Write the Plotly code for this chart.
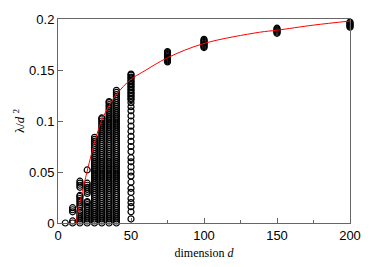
import plotly.graph_objects as go

# column positions (dimension d)
dims = [5, 10, 15, 20, 25, 30, 35, 40, 50, 75, 100, 150, 200]

# observed values lambda/d^2 for each dimension
vals_d5 = [0.0]
vals_d10 = [0.0, 0.002, 0.011, 0.013, 0.015]
vals_d15 = [0.0, 0.002, 0.004, 0.006, 0.008, 0.010, 0.012, 0.016, 0.018, 0.020,
            0.022, 0.024, 0.026, 0.027, 0.035, 0.037, 0.039, 0.041]
vals_d20 = [0.0, 0.002, 0.004, 0.006, 0.008, 0.010, 0.012, 0.014, 0.016, 0.018,
            0.020, 0.021, 0.029, 0.031, 0.033, 0.035, 0.037, 0.039, 0.052]
vals_d25 = [0.000, 0.002, 0.004, 0.006, 0.008, 0.010, 0.012, 0.014, 0.016, 0.018,
            0.020, 0.022, 0.024, 0.026, 0.028, 0.030, 0.032, 0.034, 0.036, 0.038,
            0.040, 0.042, 0.044, 0.046, 0.048, 0.050, 0.052, 0.054, 0.056, 0.058,
            0.060, 0.062, 0.064, 0.066, 0.068, 0.070, 0.072, 0.074, 0.076, 0.078,
            0.080, 0.082, 0.084]
vals_d30 = [0.000, 0.002, 0.004, 0.006, 0.008, 0.010, 0.012, 0.014, 0.016, 0.018,
            0.020, 0.022, 0.024, 0.026, 0.028, 0.030, 0.032, 0.034, 0.036, 0.038,
            0.040, 0.042, 0.044, 0.046, 0.048, 0.050, 0.052, 0.054, 0.056, 0.058,
            0.060, 0.062, 0.064, 0.066, 0.068, 0.070, 0.072, 0.074, 0.076, 0.078,
            0.080, 0.082, 0.084, 0.086, 0.088, 0.090, 0.092, 0.094, 0.096, 0.098,
            0.100, 0.102, 0.103]
vals_d35 = [0.000, 0.002, 0.004, 0.006, 0.008, 0.010, 0.012, 0.014, 0.016, 0.018,
            0.020, 0.022, 0.024, 0.026, 0.028, 0.030, 0.032, 0.034, 0.036, 0.038,
            0.040, 0.042, 0.044, 0.046, 0.048, 0.050, 0.052, 0.054, 0.056, 0.058,
            0.060, 0.062, 0.064, 0.066, 0.068, 0.070, 0.072, 0.074, 0.076, 0.078,
            0.080, 0.082, 0.084, 0.086, 0.088, 0.090, 0.092, 0.094, 0.096, 0.098,
            0.100, 0.102, 0.104, 0.106, 0.108, 0.110, 0.112, 0.114, 0.116, 0.118,
            0.119]
vals_d40 = [0.000, 0.002, 0.004, 0.006, 0.008, 0.010, 0.012, 0.014, 0.016, 0.018,
            0.020, 0.022, 0.024, 0.026, 0.028, 0.030, 0.032, 0.034, 0.036, 0.038,
            0.040, 0.042, 0.044, 0.046, 0.048, 0.050, 0.052, 0.054, 0.056, 0.058,
            0.060, 0.062, 0.064, 0.066, 0.068, 0.070, 0.072, 0.074, 0.076, 0.078,
            0.080, 0.082, 0.084, 0.086, 0.088, 0.090, 0.092, 0.094, 0.096, 0.098,
            0.100, 0.102, 0.104, 0.106, 0.108, 0.110, 0.112, 0.114, 0.116, 0.118,
            0.120, 0.122, 0.124, 0.126, 0.128, 0.130]
vals_d50 = [0.004, 0.011, 0.016, 0.020, 0.024, 0.030, 0.034, 0.040, 0.046, 0.050,
            0.055, 0.060, 0.064, 0.070, 0.075, 0.080, 0.085, 0.090, 0.095, 0.100,
            0.105, 0.110, 0.114, 0.118, 0.121, 0.122, 0.124, 0.125, 0.127, 0.128,
            0.130, 0.131, 0.133, 0.134, 0.136, 0.137, 0.139, 0.140, 0.142, 0.143,
            0.145, 0.146]
vals_d75 = [0.158, 0.159, 0.160, 0.161, 0.162, 0.163, 0.164, 0.165, 0.166, 0.167, 0.168]
vals_d100 = [0.172, 0.173, 0.174, 0.175, 0.176, 0.177, 0.178, 0.179, 0.180]
vals_d150 = [0.186, 0.187, 0.188, 0.189, 0.190, 0.191]
vals_d200 = [0.192, 0.193, 0.194, 0.195, 0.196, 0.197]

columns = [vals_d5, vals_d10, vals_d15, vals_d20, vals_d25, vals_d30, vals_d35,
           vals_d40, vals_d50, vals_d75, vals_d100, vals_d150, vals_d200]

# fitted curve
curve_d = [12.3, 13.9, 15, 18.5, 20, 23, 26.5, 30, 35, 40, 50, 58, 75, 100, 138, 150, 175, 200]
curve_v = [0.0, 0.0125, 0.020, 0.042, 0.051, 0.068, 0.086, 0.101, 0.115, 0.126,
           0.141, 0.148, 0.162, 0.176, 0.187, 0.189, 0.194, 0.198]

xs, ys = [], []
for d, vals in zip(dims, columns):
    xs += [d] * len(vals)
    ys += vals

fig = go.Figure()
fig.add_trace(go.Scatter(
    x=xs, y=ys, mode="markers",
    marker=dict(symbol="circle-open", size=6, color="black", line=dict(width=1.2, color="black")),
    showlegend=False, cliponaxis=False))
fig.add_trace(go.Scatter(
    x=curve_d, y=curve_v, mode="lines", line=dict(color="red", width=1, shape="spline"),
    showlegend=False))

axis_common = dict(showgrid=False, zeroline=False, showline=True, linecolor="#666",
                   linewidth=1, mirror=True, ticks="inside", tickcolor="#666",
                   ticklen=5, tickwidth=1, automargin=False,
                   tickfont=dict(family="Liberation Sans, Arial", size=13, color="black"))

fig.update_layout(
    width=374, height=267,
    margin=dict(l=50, r=32, t=11, b=52),
    plot_bgcolor="white", paper_bgcolor="white",
    xaxis=dict(range=[0, 200], tickvals=[0, 50, 100, 150, 200],
               minor=dict(tickvals=[25, 75, 125, 175], ticks="inside", ticklen=3,
                          tickcolor="#666"),
               title=dict(text="dimension <i>d</i>", standoff=7,
                          font=dict(family="Liberation Serif, Times New Roman", size=12, color="black")),
               **axis_common),
    yaxis=dict(range=[0, 0.2], tickvals=[0, 0.05, 0.1, 0.15, 0.2],
               ticktext=["0", "0.05", "0.1", "0.15", "0.2"],
               title=dict(text="λ/<i>d</i> <sup>2</sup>", standoff=1,
                          font=dict(family="Liberation Serif, Times New Roman", size=13, color="black")),
               **axis_common),
)

fig.write_html("out.html")
